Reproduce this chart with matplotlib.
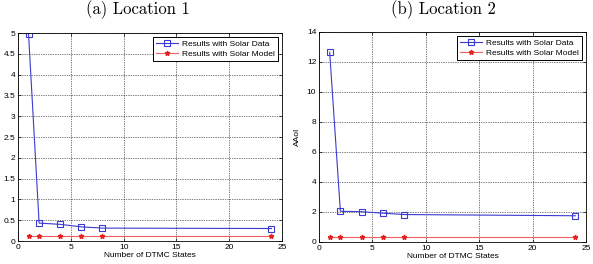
import numpy as np
import matplotlib
matplotlib.use('Agg')
import matplotlib.pyplot as plt

plt.rcParams.update({'font.family': 'Liberation Sans', 'font.size': 6})

states = [1, 2, 4, 6, 8, 24]
loc1_data = [4.97, 0.43, 0.40, 0.34, 0.31, 0.30]
loc1_model = [0.12, 0.12, 0.12, 0.12, 0.12, 0.12]
loc2_data = [12.65, 2.05, 2.02, 1.92, 1.83, 1.75]
loc2_model = [0.32, 0.32, 0.32, 0.32, 0.32, 0.32]

fig = plt.figure(figsize=(5.93, 2.64), dpi=100)
W, H = 593, 264
ax1 = fig.add_axes([18/W, 1-241/H, 264/W, 208/H])
ax2 = fig.add_axes([319/W, 1-242/H, 267/W, 210/H])

def draw(ax, d, m, ymax, yticks, ylabel=None):
    ax.plot(states, d, '-s', color='#3a3ad0', lw=0.8, ms=4, mfc='none', mec='#3a3ad0', mew=0.8,
            label='Results with Solar Data')
    ax.plot(states, m, '-*', color='#f06060', lw=0.8, ms=3.5, mfc='#e82020', mec='#e82020',
            label='Results with Solar Model')
    ax.set_xlim(0, 25)
    ax.set_ylim(0, ymax)
    ax.set_xticks([0, 5, 10, 15, 20, 25])
    ax.set_yticks(yticks)
    ax.set_yticklabels([f'{t:g}' for t in yticks])
    ax.grid(True, color='black', ls=(0, (1, 1.5)), lw=0.5)
    ax.tick_params(direction='in', length=2.5, width=0.5, pad=2, labelsize=6, top=True, right=True)
    for s in ax.spines.values():
        s.set_linewidth(0.6)
    ax.set_xlabel('Number of DTMC States', fontsize=6, labelpad=1)
    if ylabel:
        ax.set_ylabel(ylabel, fontsize=6, labelpad=4)
    leg = ax.legend(loc='upper right', fontsize=6, fancybox=False, framealpha=1,
                    edgecolor='black', borderpad=0.35, handlelength=2.6, labelspacing=0.25,
                    borderaxespad=0.5, handletextpad=0.5)
    leg.get_frame().set_linewidth(0.7)

draw(ax1, loc1_data, loc1_model, 5, np.arange(0, 5.01, 0.5))
draw(ax2, loc2_data, loc2_model, 14, np.arange(0, 15, 2), ylabel='AAoI')

fig.text(138/W, 1-10/H, '(a) Location 1', family='cmr10', fontsize=12, ha='center', va='center')
fig.text(443/W, 1-10/H, '(b) Location 2', family='cmr10', fontsize=12, ha='center', va='center')

fig.savefig('out.png', dpi=100)
